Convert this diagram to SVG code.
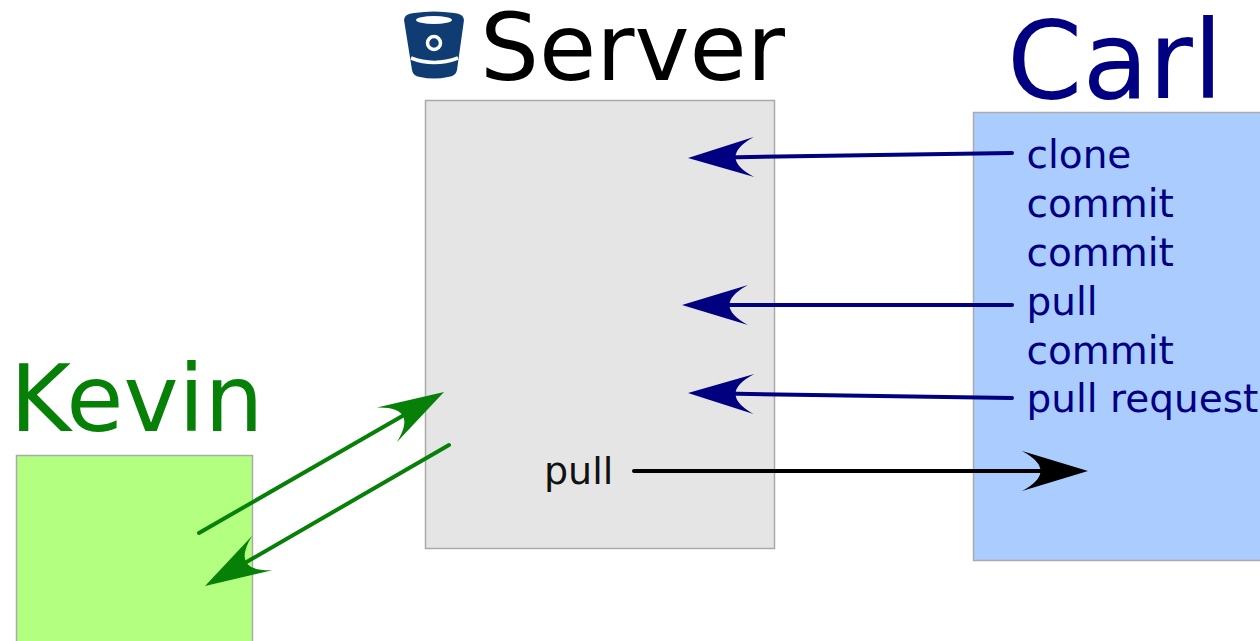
<svg xmlns="http://www.w3.org/2000/svg" width="1260" height="641" viewBox="0 0 1260 641">
<style>
text{font-family:"DejaVu Sans",sans-serif}
.box{stroke:#aaa;stroke-width:1.500}
.lab{font-size:39px;fill:#000080}
.ln{fill:none;stroke-width:4;stroke-linecap:round}
</style>
<defs>
<path id="head" d="M67 20 L1 0 Q38 20 1 40Z"/>
<marker id="b" markerUnits="userSpaceOnUse" markerWidth="70" markerHeight="42" refX="31" refY="20" orient="auto" viewBox="0 0 70 42"><use href="#head" fill="#000080"/></marker>
<marker id="g" markerUnits="userSpaceOnUse" markerWidth="70" markerHeight="42" refX="31" refY="20" orient="auto" viewBox="0 0 70 42"><use href="#head" fill="#078007"/></marker>
<marker id="k" markerUnits="userSpaceOnUse" markerWidth="70" markerHeight="42" refX="31" refY="20" orient="auto" viewBox="0 0 70 42"><use href="#head" fill="#000"/></marker>
</defs>
<rect width="1260" height="641" fill="#fff"/>
<g id="server">
<rect class="box" x="425.500" y="100.500" width="349" height="448" fill="#e5e5e5"/>
<g id="bucket-icon">
<path d="M404 20 Q404 14 414 13 Q434 10 454 13 Q464 14 464 20 L457 70 Q456 76 448 77 Q434 80 420 77 Q413 76 412 70Z" fill="#0f3d73"/>
<ellipse cx="434" cy="20" rx="18" ry="4" fill="#fff"/>
<path d="M411 58 Q434 67 458 58" fill="none" stroke="#fff" stroke-width="3.500"/>
<circle cx="434" cy="43" r="6.500" fill="none" stroke="#fff" stroke-width="3.500"/>
</g>
<text x="480" y="80" font-size="93" fill="#000">Server</text>
<text x="544" y="484" font-size="38" fill="#111">pull</text>
</g>
<g id="carl">
<rect class="box" x="973.500" y="112.500" width="290" height="448" fill="#aaccff"/>
<text x="1007" y="98" font-size="108" fill="#000080">Carl</text>
<text class="lab" x="1026.500" y="168">clone</text>
<text class="lab" x="1026.500" y="217">commit</text>
<text class="lab" x="1026.500" y="266">commit</text>
<text class="lab" x="1026.500" y="315">pull</text>
<text class="lab" x="1026.500" y="364">commit</text>
<text class="lab" x="1026.500" y="412">pull request</text>
</g>
<g id="kevin">
<rect class="box" x="16.500" y="455.500" width="236" height="190" fill="#b3ff80"/>
<text x="10" y="431" font-size="93" fill="#078007">Kevin</text>
</g>
<g id="connectors">
<path class="ln" stroke="#000080" marker-end="url(#b)" d="M1012 153 L724 157.400"/>
<path class="ln" stroke="#000080" marker-end="url(#b)" d="M1012 305 L718 305"/>
<path class="ln" stroke="#000080" marker-end="url(#b)" d="M1012 398 L724 393.600"/>
<path class="ln" stroke="#000" marker-end="url(#k)" d="M634 471 L1052 471"/>
<path class="ln" stroke="#078007" marker-end="url(#g)" d="M199 533 L412.800 410"/>
<path class="ln" stroke="#078007" marker-end="url(#g)" d="M449 445 L236.200 568"/>
</g>
</svg>
